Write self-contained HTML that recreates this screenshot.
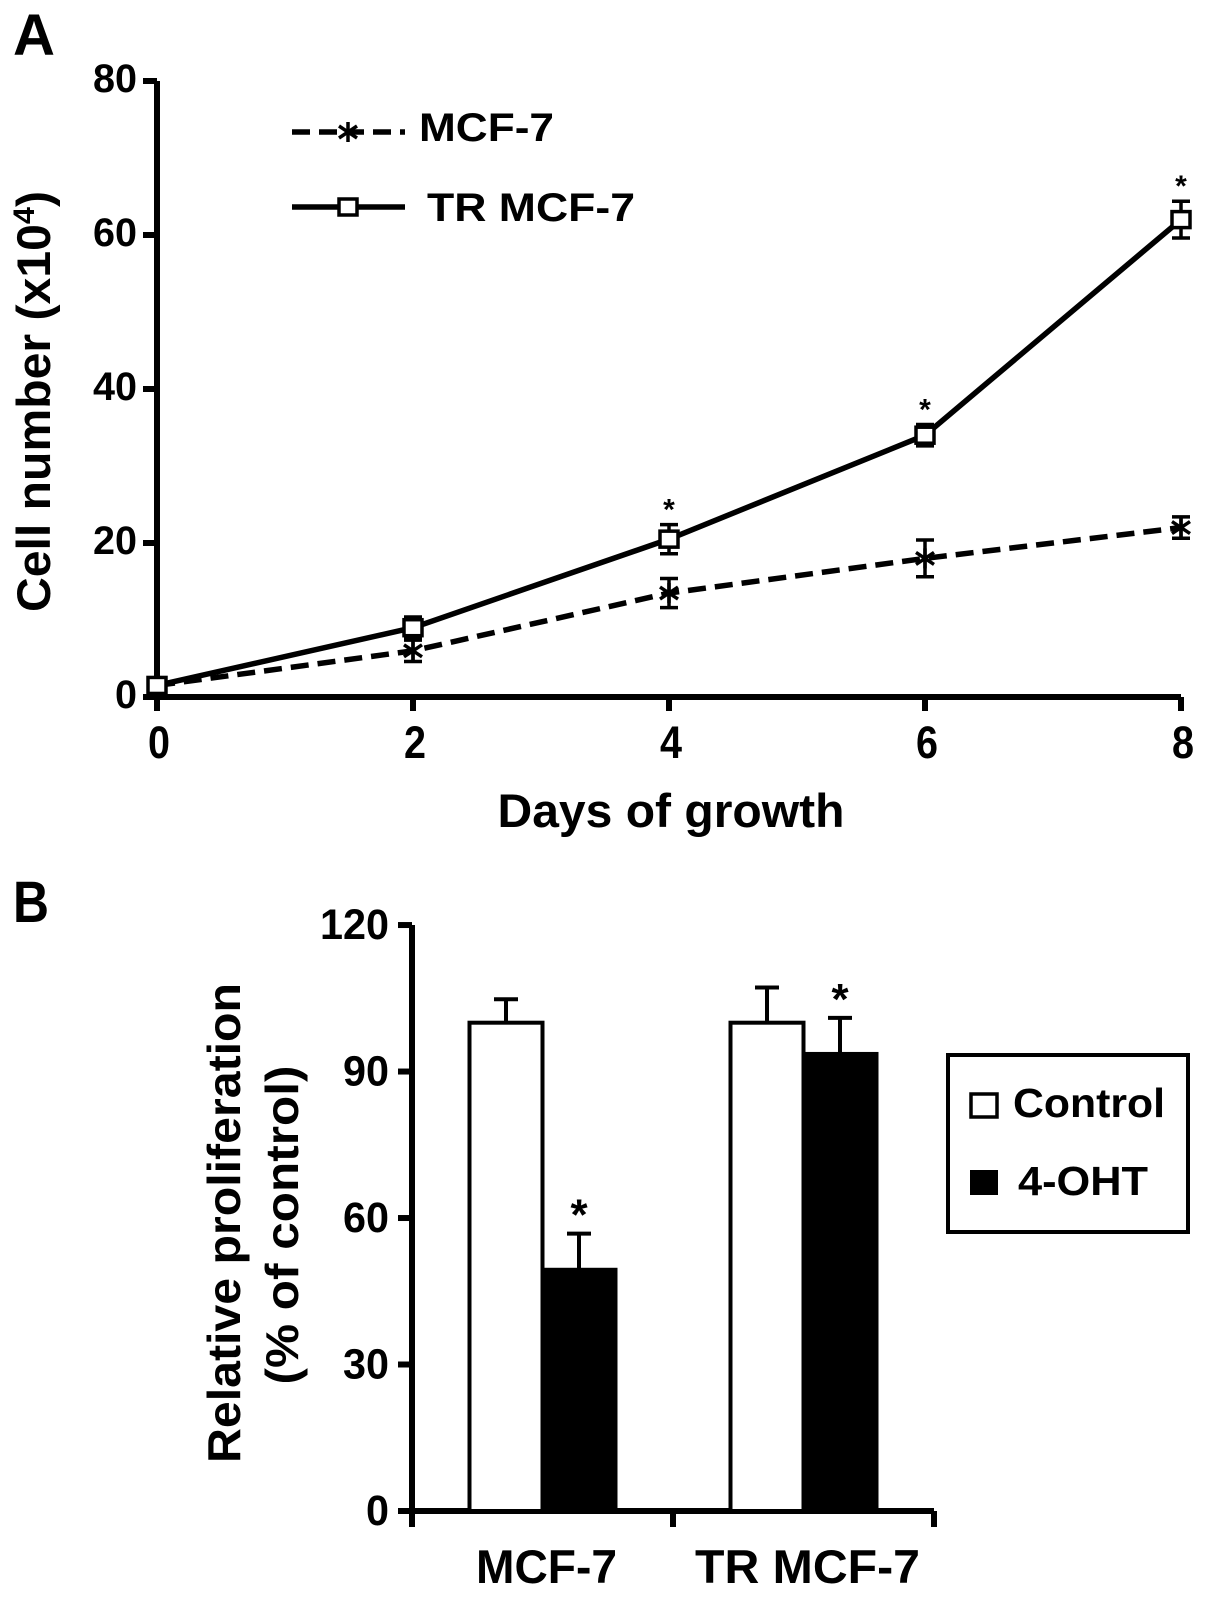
<!DOCTYPE html>
<html><head><meta charset="utf-8"><style>
html,body{margin:0;padding:0;background:#fff;}
svg{display:block;}
text{font-family:"Liberation Sans",Arial,sans-serif;font-weight:bold;fill:#000;}
</style></head><body>
<svg id="fig" width="1205" height="1609" viewBox="0 0 1205 1609" xmlns="http://www.w3.org/2000/svg"></svg>
<script>
// ---- Panel A data ----
const daysA = [0, 2, 4, 6, 8];
const mcfValues = [1.5, 6, 13.5, 18, 22];
const mcfErrors = [0.5, 1, 1.5, 2, 1];
const trValues = [1.5, 9, 20.5, 34, 62];
const trErrors = [0.5, 1, 1.5, 1, 2];
const trSignificant = [false, false, true, true, true];
const yTicksA = [0, 20, 40, 60, 80];
const xTicksA = [0, 2, 4, 6, 8];
// ---- Panel B data ----
const categoriesB = ["MCF-7", "TR MCF-7"];
const controlValues = [100, 100];
const controlErrors = [4.8, 7.2];
const ohtValues = [49.4, 93.6];
const ohtErrors = [7.4, 7.4];
const ohtSignificant = [true, true];
const yTicksB = [0, 30, 60, 90, 120];

const NS = "http://www.w3.org/2000/svg";
const svg = document.getElementById("fig");
function mk(tag, attrs, parent) {
  const e = document.createElementNS(NS, tag);
  for (const k in attrs) e.setAttribute(k, attrs[k]);
  (parent || svg).appendChild(e);
  return e;
}
function txt(str, x, y, fs, len, anchor, parent) {
  const t = mk("text", {x: x, y: y, "font-size": fs, "text-anchor": anchor || "start"}, parent);
  if (len) { t.setAttribute("textLength", len); t.setAttribute("lengthAdjust", "spacingAndGlyphs"); }
  t.textContent = str;
  return t;
}

// ================= PANEL A =================
const gA = mk("g", {});


const xA = d => 157 + d * 128;
const yA = v => 697 - v * 7.7;

let t = txt("A", 13, 55, 58, 42, "start", gA);



let ax = mk("path", {d: `M157 ${yA(80)} V${yA(0)+14} M${xA(0)} ${yA(0)} H${xA(8)}`, stroke: "#000", "stroke-width": 6, fill: "none"}, gA);



yTicksA.forEach(v => {
  const tk = mk("line", {x1: 143, x2: 157, y1: yA(v), y2: yA(v), stroke: "#000", "stroke-width": 6}, gA);
  
  
  const lb = txt(String(v), 137, yA(v) + 11, 40, String(v).length * 22, "end", gA);
  
  
});
xTicksA.forEach(d => {
  const tk = mk("line", {x1: xA(d), x2: xA(d), y1: yA(0), y2: yA(0) + 14, stroke: "#000", "stroke-width": 6}, gA);
  
  
  const lb = txt(String(d), xA(d) + 2, 758, 45, 22, "middle", gA);
  
  
});

t = txt("Cell number (x10", 0, 0, 47, null, "start", gA);
const sup = mk("tspan", {"font-size": 30, dy: -16}, t); sup.textContent = "4";
const cp = mk("tspan", {dy: 16}, t); cp.textContent = ")";
t.setAttribute("transform", "translate(50,612) rotate(-90)");
t.setAttribute("textLength", 421); t.setAttribute("lengthAdjust", "spacingAndGlyphs");



t = txt("Days of growth", 671, 827, 47, 347, "middle", gA);



function starMarker(cx, cy, parent) {
  const g = mk("g", {stroke: "#000", "stroke-width": 3.5}, parent);
  mk("line", {x1: cx, x2: cx, y1: cy - 10, y2: cy + 10}, g);
  mk("line", {x1: cx - 9, x2: cx + 9, y1: cy - 6, y2: cy + 6}, g);
  mk("line", {x1: cx - 9, x2: cx + 9, y1: cy + 6, y2: cy - 6}, g);
  return g;
}
function squareMarker(cx, cy, parent) {
  return mk("rect", {x: cx - 9, y: cy - 8, width: 18, height: 16, fill: "#fff", stroke: "#000", "stroke-width": 3.5}, parent);
}
function errBar(cx, v, e, yf, parent) {
  const a = yf(v + e) - 3, b = yf(v - e) + 3;
  return mk("path", {d: `M${cx-9} ${a} H${cx+9} M${cx} ${a} V${b} M${cx-9} ${b} H${cx+9}`, stroke: "#000", "stroke-width": 3.5, fill: "none"}, parent);
}

// MCF-7 series
let pts = daysA.map((d, i) => `${xA(d)},${yA(mcfValues[i])}`).join(" ");
let ln = mk("polyline", {points: pts, fill: "none", stroke: "#000", "stroke-width": 5.5, "stroke-dasharray": "18 9"}, gA);


daysA.forEach((d, i) => {
  const eb = errBar(xA(d), mcfValues[i], mcfErrors[i], yA, gA);
  
  
  const m = starMarker(xA(d), yA(mcfValues[i]), gA);
  
  
});
// TR MCF-7 series
pts = daysA.map((d, i) => `${xA(d)},${yA(trValues[i])}`).join(" ");
ln = mk("polyline", {points: pts, fill: "none", stroke: "#000", "stroke-width": 5.5}, gA);


daysA.forEach((d, i) => {
  const eb = errBar(xA(d), trValues[i], trErrors[i], yA, gA);
  
  
  const m = squareMarker(xA(d), yA(trValues[i]), gA);
  
  
  if (trSignificant[i]) {
    const s = txt("*", xA(d), yA(trValues[i] + trErrors[i]) - 8, 30, null, "middle", gA);
    
    
  }
});

// Legend A
const lgA = mk("g", {}, gA);


mk("line", {x1: 292, x2: 405, y1: 132, y2: 132, stroke: "#000", "stroke-width": 5.5, "stroke-dasharray": "18 9"}, lgA);
starMarker(348, 132, lgA);
t = txt("MCF-7", 419, 141, 40, 135, "start", lgA);


mk("line", {x1: 292, x2: 405, y1: 207, y2: 207, stroke: "#000", "stroke-width": 5.5}, lgA);
squareMarker(348, 207, lgA);
t = txt("TR MCF-7", 427, 221, 40, 208, "start", lgA);



// ================= PANEL B =================
const gB = mk("g", {});


const yB = v => 1511 - v * 4.883;
const x0B = 412, x1B = 934;
const bandW = (x1B - x0B) / categoriesB.length;
const centerB = i => x0B + bandW * (i + 0.5);
const barW = 73;

t = txt("B", 13, 922, 58, 36, "start", gB);



ax = mk("path", {d: `M${x0B} ${yB(120)} V${yB(0)+16} M${x0B} ${yB(0)} H${x1B}`, stroke: "#000", "stroke-width": 6, fill: "none"}, gB);


yTicksB.forEach(v => {
  const tk = mk("line", {x1: 398, x2: x0B, y1: yB(v), y2: yB(v), stroke: "#000", "stroke-width": 6}, gB);
  
  
  const lb = txt(String(v), 389, yB(v) + 14, 43, String(v).length * 23, "end", gB);
  
  
});
[1, 2].forEach(k => {
  const xx = x0B + bandW * k;
  const tk = mk("line", {x1: xx, x2: xx, y1: yB(0), y2: yB(0) + 16, stroke: "#000", "stroke-width": 6}, gB);
  
  
});

t = txt("Relative proliferation", 0, 0, 46, 480, "middle", gB);
t.setAttribute("transform", "translate(240,1223) rotate(-90)");


t = txt("(% of control)", 0, 0, 46, 319, "middle", gB);
t.setAttribute("transform", "translate(298,1225) rotate(-90)");



categoriesB.forEach((c, i) => {
  const cx = centerB(i);
  const e1 = mk("path", {d: `M${cx - barW/2} ${yB(controlValues[i])} V${yB(controlValues[i] + controlErrors[i])} M${cx - barW/2 - 12} ${yB(controlValues[i] + controlErrors[i])} H${cx - barW/2 + 12}`, stroke: "#000", "stroke-width": 4, fill: "none"}, gB);
  
  
  const e2 = mk("path", {d: `M${cx + barW/2} ${yB(ohtValues[i])} V${yB(ohtValues[i] + ohtErrors[i])} M${cx + barW/2 - 12} ${yB(ohtValues[i] + ohtErrors[i])} H${cx + barW/2 + 12}`, stroke: "#000", "stroke-width": 4, fill: "none"}, gB);
  
  
  const b1 = mk("rect", {x: cx - barW, y: yB(controlValues[i]), width: barW, height: yB(0) - yB(controlValues[i]), fill: "#fff", stroke: "#000", "stroke-width": 4}, gB);
  
  
  const b2 = mk("rect", {x: cx, y: yB(ohtValues[i]), width: barW, height: yB(0) - yB(ohtValues[i]), fill: "#000", stroke: "#000", "stroke-width": 4}, gB);
  
  
  if (ohtSignificant[i]) {
    const s = txt("*", cx + barW/2, yB(ohtValues[i] + ohtErrors[i]) - 4, 44, null, "middle", gB);
    
    
  }
  const lb = txt(c, cx + 4, 1583, 47, c.length > 6 ? 225 : 141, "middle", gB);
  
  
});

// Legend B
const lgB = mk("g", {}, gB);


mk("rect", {x: 948, y: 1055, width: 240, height: 177, fill: "#fff", stroke: "#000", "stroke-width": 4}, lgB);
let sw = mk("rect", {x: 971, y: 1094, width: 26, height: 23, fill: "#fff", stroke: "#000", "stroke-width": 3.5}, lgB);


t = txt("Control", 1013, 1117, 41, 152, "start", lgB);


sw = mk("rect", {x: 970, y: 1170, width: 28, height: 25, fill: "#000"}, lgB);


t = txt("4-OHT", 1018, 1195, 41, 130, "start", lgB);


</script>
</body></html>
